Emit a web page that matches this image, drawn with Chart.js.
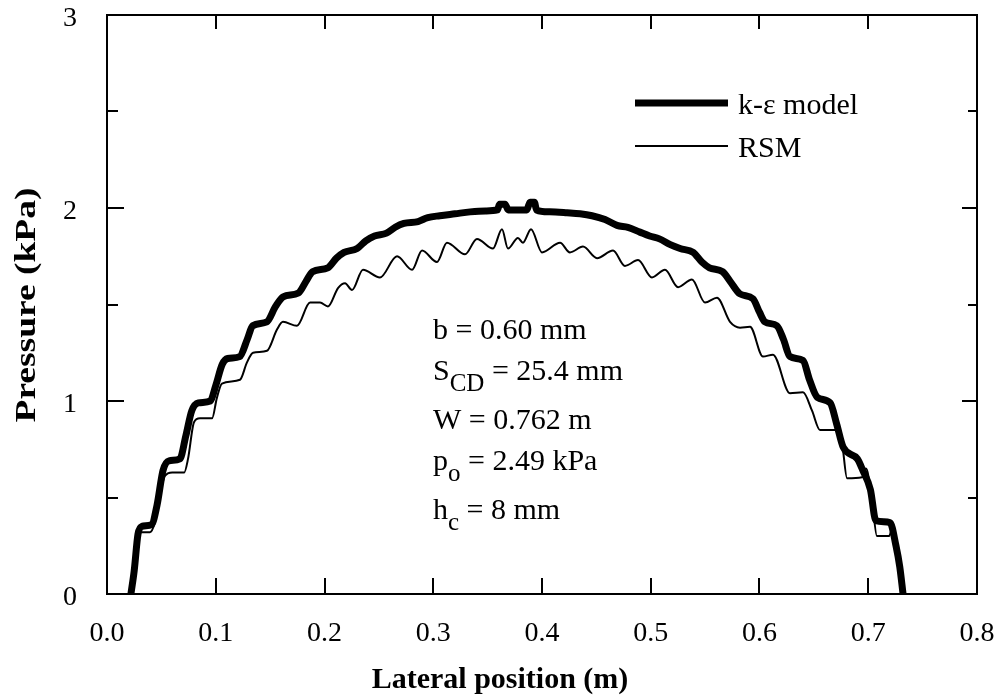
<!DOCTYPE html>
<html><head><meta charset="utf-8">
<script src="https://cdn.jsdelivr.net/npm/chart.js@4.4.1/dist/chart.umd.min.js"></script>
<style>html,body{margin:0;padding:0;background:#fff;}#wrap{width:1002px;height:699px;position:relative;}</style>
</head><body><div id="wrap"><canvas id="c" width="1002" height="699"></canvas></div>
<script>
// ---- data (lateral position in m, pressure in kPa) ----
const kepsX = [0.022,0.025,0.0285,0.032,0.041,0.046,0.0515,0.057,0.067,0.0725,0.078,0.084,0.095,0.100,0.106,0.111,0.122,0.129,0.134,0.147,0.155,0.162,0.176,0.183,0.189,0.203,0.211,0.218,0.230,0.238,0.246,0.257,0.265,0.273,0.286,0.295,0.306,0.320,0.334,0.348,0.359,0.361,0.366,0.369,0.380,0.386,0.389,0.393,0.395,0.407,0.423,0.435,0.446,0.458,0.469,0.479,0.490,0.499,0.508,0.518,0.527,0.539,0.547,0.554,0.566,0.573,0.582,0.594,0.600,0.605,0.616,0.622,0.628,0.640,0.646,0.653,0.665,0.671,0.677,0.690,0.695,0.702,0.707,0.720,0.7255,0.729,0.732];
const kepsY = [0,0.12,0.31,0.35,0.36,0.46,0.64,0.69,0.70,0.82,0.95,0.99,1.00,1.08,1.19,1.22,1.23,1.32,1.39,1.41,1.49,1.54,1.56,1.62,1.67,1.69,1.74,1.77,1.79,1.83,1.855,1.87,1.90,1.92,1.93,1.95,1.96,1.97,1.98,1.985,1.99,2.02,2.02,1.99,1.99,1.99,2.03,2.03,1.99,1.98,1.975,1.97,1.96,1.94,1.91,1.90,1.875,1.855,1.84,1.81,1.79,1.77,1.72,1.69,1.67,1.62,1.555,1.53,1.46,1.41,1.39,1.32,1.23,1.21,1.11,1.02,0.99,0.88,0.76,0.70,0.64,0.54,0.38,0.37,0.25,0.14,0];
const rsmX = [0.022,0.025,0.0285,0.031,0.0395,0.044,0.049,0.053,0.060,0.071,0.0745,0.080,0.0855,0.0966,0.101,0.1057,0.1223,0.1287,0.1343,0.1471,0.1563,0.1618,0.1747,0.1867,0.1959,0.2032,0.2124,0.2189,0.2253,0.2354,0.2510,0.2667,0.2805,0.2897,0.3034,0.3126,0.3292,0.3402,0.3549,0.3632,0.3687,0.3779,0.3825,0.3899,0.4000,0.4166,0.4257,0.4377,0.4506,0.4653,0.4763,0.4883,0.5011,0.5131,0.5251,0.5379,0.5499,0.5609,0.5729,0.5821,0.5913,0.6032,0.6124,0.6280,0.6400,0.6483,0.6556,0.6694,0.6759,0.6805,0.6943,0.6979,0.7034,0.7080,0.7191,0.7228,0.7274,0.7320];
const rsmY = [0,0.12,0.295,0.32,0.32,0.37,0.52,0.61,0.63,0.63,0.70,0.89,0.91,0.91,1.015,1.09,1.11,1.20,1.25,1.26,1.37,1.41,1.39,1.51,1.51,1.49,1.585,1.61,1.575,1.68,1.64,1.75,1.68,1.78,1.72,1.82,1.76,1.84,1.79,1.89,1.79,1.845,1.82,1.89,1.77,1.82,1.77,1.80,1.74,1.78,1.70,1.73,1.64,1.68,1.59,1.63,1.51,1.535,1.41,1.38,1.385,1.23,1.24,1.04,1.045,0.95,0.85,0.85,0.78,0.60,0.605,0.65,0.49,0.30,0.30,0.35,0.20,0];
const seriesNames = ['k-\u03b5 model','RSM'];
const xTicks = [0.0,0.1,0.2,0.3,0.4,0.5,0.6,0.7,0.8];
const yTicks = [0,1,2,3];
const yMinorTicks = [0.5,1.5,2.5];
const xTitle = 'Lateral position (m)';
const yTitle = 'Pressure (kPa)';
const noteLines = [['b = 0.60 mm','',''],['S','CD',' = 25.4 mm'],['W = 0.762 m','',''],['p','o',' = 2.49 kPa'],['h','c',' = 8 mm']];

const zip = (xs, ys) => xs.map((x, i) => ({x: x, y: ys[i]}));
const SERIF = '"Liberation Serif", "Times New Roman", serif';
const noPad = s => { s.paddingLeft = 0; s.paddingRight = 0; s.paddingTop = 0; s.paddingBottom = 0; };

const framePlugin = {
  id: 'frame',
  afterDraw(chart) {
    const ctx = chart.ctx, a = chart.chartArea;
    const xs = chart.scales.x, ys = chart.scales.y;
    ctx.save();
    ctx.strokeStyle = '#000';
    ctx.lineWidth = 2;
    ctx.strokeRect(a.left, a.top, a.right - a.left, a.bottom - a.top);
    ctx.beginPath();
    xTicks.forEach(v => {
      const px = Math.round(xs.getPixelForValue(v));
      ctx.moveTo(px, a.bottom); ctx.lineTo(px, a.bottom - 16);
      ctx.moveTo(px, a.top); ctx.lineTo(px, a.top + 14);
    });
    yTicks.forEach(v => {
      const py = Math.round(ys.getPixelForValue(v));
      ctx.moveTo(a.left, py); ctx.lineTo(a.left + 17, py);
      ctx.moveTo(a.right, py); ctx.lineTo(a.right - 15, py);
    });
    yMinorTicks.forEach(v => {
      const py = Math.round(ys.getPixelForValue(v));
      ctx.moveTo(a.left, py); ctx.lineTo(a.left + 11, py);
      ctx.moveTo(a.right, py); ctx.lineTo(a.right - 9, py);
    });
    ctx.stroke();

    // axis titles
    ctx.fillStyle = '#000';
    ctx.font = 'bold 30px ' + SERIF;
    ctx.textAlign = 'center';
    ctx.textBaseline = 'middle';
    ctx.fillText(xTitle, 500, 680);
    ctx.save();
    ctx.translate(27, 305);
    ctx.rotate(-Math.PI / 2);
    ctx.scale(1.25, 1);
    ctx.fillText(yTitle, 0, 0);
    ctx.restore();

    // legend
    ctx.textAlign = 'left';
    ctx.textBaseline = 'alphabetic';
    ctx.font = '30px ' + SERIF;
    const legY = [103, 146];
    chart.data.datasets.forEach((ds, i) => {
      ctx.beginPath();
      ctx.lineWidth = ds.borderWidth;
      ctx.moveTo(635, legY[i]); ctx.lineTo(728, legY[i]);
      ctx.stroke();
      ctx.fillText(ds.label, 738, legY[i] + 11);
    });

    // parameter note
    const baselines = [339, 380, 429, 470, 519];
    noteLines.forEach((ln, i) => {
      let x = 433;
      ctx.font = '30px ' + SERIF;
      ctx.fillText(ln[0], x, baselines[i]);
      x += ctx.measureText(ln[0]).width;
      if (ln[1]) {
        ctx.font = '25px ' + SERIF;
        ctx.fillText(ln[1], x, baselines[i] + 11);
        x += ctx.measureText(ln[1]).width;
        ctx.font = '30px ' + SERIF;
        ctx.fillText(ln[2], x, baselines[i]);
      }
    });
    ctx.restore();
  }
};

new Chart(document.getElementById('c'), {
  type: 'line',
  data: {
    datasets: [
      {label: seriesNames[0], data: zip(kepsX, kepsY), borderColor: '#000', borderWidth: 7, pointRadius: 0, fill: false, cubicInterpolationMode: 'monotone', borderJoinStyle: 'round', borderCapStyle: 'round'},
      {label: seriesNames[1], data: zip(rsmX, rsmY), borderColor: '#000', borderWidth: 2, pointRadius: 0, fill: false, cubicInterpolationMode: 'monotone'}
    ]
  },
  options: {
    responsive: false,
    animation: false,
    devicePixelRatio: 1,
    layout: {autoPadding: false, padding: {top: 15, right: 25, left: 0, bottom: 0}},
    plugins: {legend: {display: false}, tooltip: {enabled: false}},
    scales: {
      x: {
        type: 'linear', min: 0, max: 0.8,
        afterBuildTicks: s => { s.ticks = xTicks.map(v => ({value: v})); },
        afterFit: s => { s.height = 105; noPad(s); },
        grid: {display: false, drawTicks: false},
        border: {display: false},
        ticks: {color: '#000', font: {family: SERIF, size: 28}, padding: 23, maxRotation: 0, autoSkip: false, callback: v => Number(v).toFixed(1)}
      },
      y: {
        type: 'linear', min: 0, max: 3,
        afterBuildTicks: s => { s.ticks = yTicks.map(v => ({value: v})); },
        afterFit: s => { s.width = 107; noPad(s); },
        grid: {display: false, drawTicks: false},
        border: {display: false},
        ticks: {color: '#000', font: {family: SERIF, size: 28}, padding: 30, labelOffset: 4, callback: v => String(v)}
      }
    }
  },
  plugins: [framePlugin]
});
</script></body></html>
